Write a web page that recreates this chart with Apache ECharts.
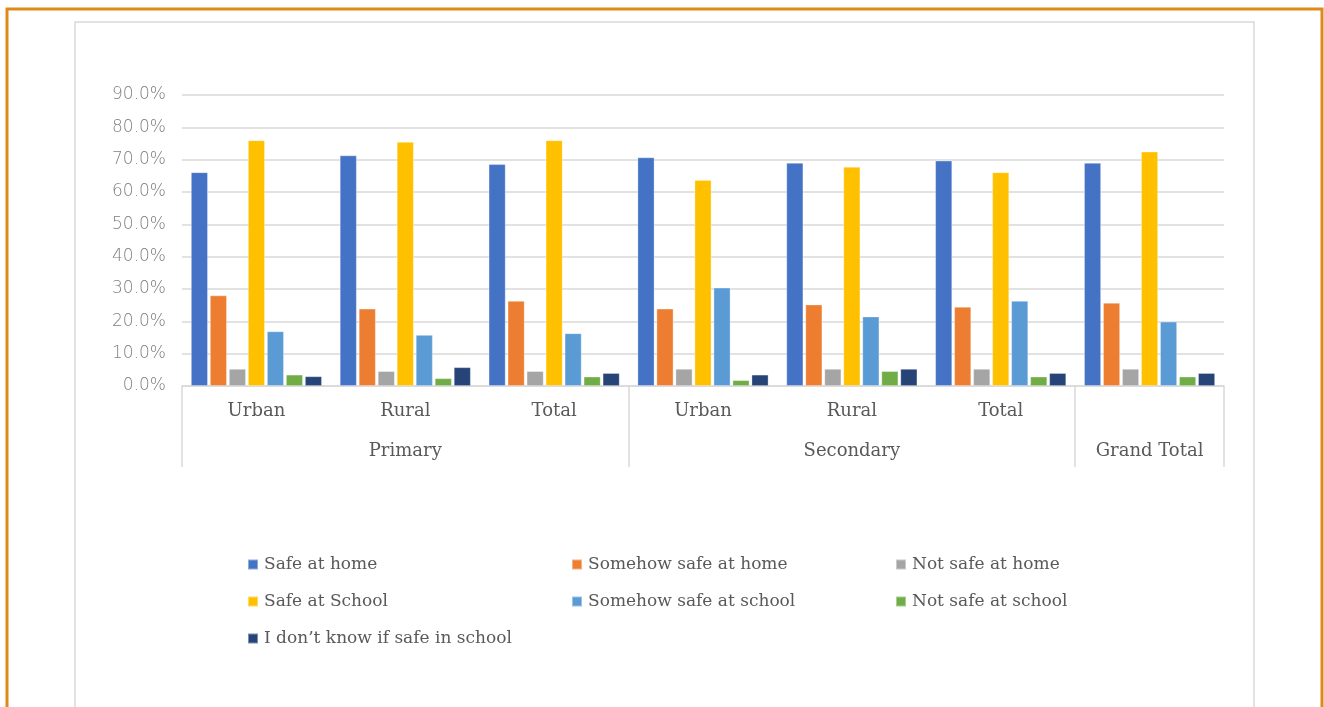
<!DOCTYPE html>
<html>
<head>
<meta charset="utf-8">
<script src="https://cdn.jsdelivr.net/npm/echarts@6/dist/echarts.min.js"></script>
<style>
  html, body { margin: 0; padding: 0; background: #ffffff; }
  #main { width: 1324px; height: 707px; }
</style>
</head>
<body>
<div id="main"></div>
<script>
// categories (inner level) and their groups (outer level)
var categories = ['Urban', 'Rural', 'Total', 'Urban', 'Rural', 'Total', 'Grand Total'];
var groups = ['Primary', 'Primary', 'Primary', 'Secondary', 'Secondary', 'Secondary', 'Grand Total'];
var innerLabels = ['Urban', 'Rural', 'Total', 'Urban', 'Rural', 'Total', ''];

// series values, in %
var safeHome = [66.1, 71.3, 68.6, 70.7, 69.0, 69.7, 69.0];
var somehowHome = [28.0, 23.9, 26.3, 23.9, 25.2, 24.5, 25.7];
var notSafeHome = [5.3, 4.6, 4.6, 5.3, 5.3, 5.3, 5.3];
var safeSchool = [76.0, 75.5, 76.0, 63.7, 67.8, 66.1, 72.5];
var somehowSchool = [16.9, 15.8, 16.3, 30.4, 21.5, 26.3, 19.9];
var notSafeSchool = [3.5, 2.4, 2.9, 1.8, 4.6, 2.9, 2.9];
var dontKnow = [3.0, 5.8, 4.0, 3.5, 5.3, 4.0, 4.0];

var seriesNames = ['Safe at home', 'Somehow safe at home', 'Not safe at home',
  'Safe at School', 'Somehow safe at school', 'Not safe at school',
  'I don\u2019t know if safe in school'];
var seriesData = [safeHome, somehowHome, notSafeHome, safeSchool, somehowSchool, notSafeSchool, dontKnow];
var colors = ['#4472C4', '#ED7D31', '#A5A5A5', '#FFC000', '#5B9BD5', '#70AD47', '#264478'];

var serifFont = 'DejaVu Serif';
var textGray = '#595959';

var chart = echarts.init(document.getElementById('main'));

var series = seriesNames.map(function (name, i) {
  return {
    name: name,
    type: 'bar',
    data: seriesData[i],
    barGap: '12%',
    barCategoryGap: '12%',
    itemStyle: {
      color: colors[i],
      borderColor: 'rgba(255,255,255,0.4)',
      borderWidth: 0.8
    }
  };
});

function legendBlock(names, left) {
  return {
    orient: 'vertical',
    left: left,
    top: 551,
    itemWidth: 10,
    itemHeight: 10,
    itemGap: 20,
    icon: 'rect',
    data: names,
    textStyle: {
      fontFamily: serifFont,
      fontSize: 17,
      color: textGray,
      padding: [0, 0, 0, 1]
    }
  };
}

var option = {
  color: colors,
  animation: false,
  grid: {
    left: 182,
    right: 100,
    top: 95,
    bottom: 321
  },
  graphic: [
    {
      type: 'rect',
      shape: { x: 7, y: 9, width: 1315, height: 720 },
      style: { fill: 'none', stroke: '#E0891A', lineWidth: 3 }
    },
    {
      type: 'rect',
      shape: { x: 75, y: 22, width: 1179, height: 700 },
      style: { fill: 'none', stroke: '#D9D9D9', lineWidth: 1.5 }
    }
  ],
  legend: [
    legendBlock([seriesNames[0], seriesNames[3], seriesNames[6]], 242),
    legendBlock([seriesNames[1], seriesNames[4]], 566),
    legendBlock([seriesNames[2], seriesNames[5]], 890)
  ],
  xAxis: [
    {
      type: 'category',
      data: categories,
      position: 'bottom',
      axisLine: { lineStyle: { color: '#D9D9D9', width: 1.5 } },
      axisTick: { show: false },
      axisLabel: {
        margin: 16,
        fontFamily: serifFont,
        fontSize: 18,
        color: textGray,
        interval: 0,
        formatter: function (v, i) { return innerLabels[i]; }
      }
    },
    {
      type: 'category',
      data: groups,
      position: 'bottom',
      axisLine: { show: false },
      axisTick: {
        show: true,
        length: 81,
        interval: function (i) { return i === 0 || i === 3 || i === 6; },
        lineStyle: { color: '#D9D9D9', width: 1.5 }
      },
      axisLabel: {
        margin: 56,
        fontFamily: serifFont,
        fontSize: 18,
        color: textGray,
        interval: function (i) { return i === 1 || i === 4 || i === 6; }
      }
    }
  ],
  yAxis: {
    type: 'value',
    min: 0,
    max: 90,
    interval: 10,
    axisLine: { show: false },
    axisTick: { show: false },
    splitLine: { lineStyle: { color: '#D9D9D9', width: 1.5 } },
    axisLabel: {
      margin: 16,
      fontFamily: 'DejaVu Sans',
      fontSize: 17,
      fontWeight: 300,
      color: '#7F7F7F',
      formatter: function (v) { return v.toFixed(1) + '%'; }
    }
  },
  series: series
};

chart.setOption(option);
</script>
</body>
</html>
